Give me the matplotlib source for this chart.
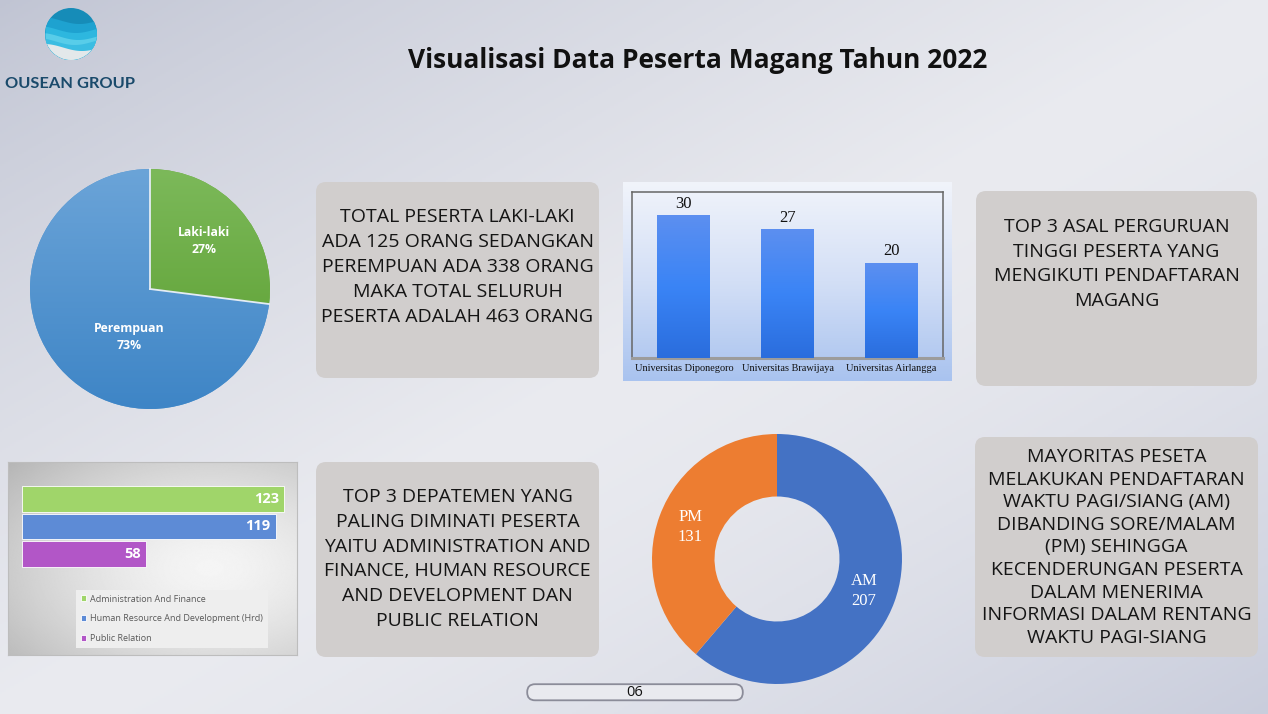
import numpy as np
import matplotlib
matplotlib.use("Agg")
import matplotlib.pyplot as plt
from matplotlib.patches import FancyBboxPatch, Circle
from matplotlib.colors import LinearSegmentedColormap, to_rgb

W, H = 1268, 714

# ---- data ----
title = "Visualisasi Data Peserta Magang Tahun 2022"
gender_labels = ["Laki-laki", "Perempuan"]
gender_counts = [125, 338]
univ_names = ["Universitas Diponegoro", "Universitas Brawijaya", "Universitas Airlangga"]
univ_counts = [30, 27, 20]
dept_names = ["Administration And Finance", "Human Resource And Development (Hrd)", "Public Relation"]
dept_counts = [123, 119, 58]
time_labels = ["AM", "PM"]
time_counts = [207, 131]

text_gender = ["TOTAL PESERTA LAKI-LAKI", "ADA 125 ORANG SEDANGKAN", "PEREMPUAN ADA 338 ORANG",
               "MAKA TOTAL SELURUH", "PESERTA ADALAH 463 ORANG"]
text_univ = ["TOP 3 ASAL PERGURUAN", "TINGGI PESERTA YANG", "MENGIKUTI PENDAFTARAN", "MAGANG"]
text_dept = ["TOP 3 DEPATEMEN YANG", "PALING DIMINATI PESERTA", "YAITU ADMINISTRATION AND",
             "FINANCE, HUMAN RESOURCE", "AND DEVELOPMENT DAN", "PUBLIC RELATION"]
text_time = ["MAYORITAS PESETA", "MELAKUKAN PENDAFTARAN", "WAKTU PAGI/SIANG (AM)",
             "DIBANDING SORE/MALAM", "(PM) SEHINGGA", "KECENDERUNGAN PESERTA",
             "DALAM MENERIMA", "INFORMASI DALAM RENTANG", "WAKTU PAGI-SIANG"]

fig = plt.figure(figsize=(W / 100, H / 100), dpi=100)


def px_axes(x0, y0, x1, y1):
    # axes from pixel box (top-left origin)
    return fig.add_axes([x0 / W, 1 - y1 / H, (x1 - x0) / W, (y1 - y0) / H])


def vgrad(ax, extent, colors, **kw):
    cmap = LinearSegmentedColormap.from_list("g", colors[::-1])
    g = np.linspace(1, 0, 256).reshape(-1, 1)
    return ax.imshow(g, extent=extent, cmap=cmap, aspect="auto", interpolation="bilinear", **kw)


# ---- background ----
bg = fig.add_axes([0, 0, 1, 1])
bg.set_xlim(0, W)
bg.set_ylim(H, 0)
bg.axis("off")
yy, xx = np.mgrid[0:H:2, 0:W:2]
s = ((xx / W + yy / H) / 2)[..., None]
light = np.array(to_rgb("#eaebf0"))
tl = np.array(to_rgb("#c0c4d3"))
br = np.array(to_rgb("#c9cddc"))
img = np.where(s < 0.5, tl + (light - tl) * np.clip(s / 0.5, 0, 1) ** 0.8,
               light + (br - light) * np.clip((s - 0.5) / 0.5, 0, 1) ** 1.5)
bg.imshow(img, extent=(0, W, H, 0), aspect="auto", zorder=0)

# ---- logo ----
cx, cy, r = 71, 34, 26
circ = Circle((cx, cy), r, facecolor="#168cb8", edgecolor="none", zorder=1)
bg.add_patch(circ)
xs = np.linspace(cx - r, cx + r, 120)
waves = [(-14, "#1ea2d0", 0.9), (-5, "#2db7df", 1.2), (2, "#58cde9", 1.0),
         (7, "#3bbde2", 1.3), (13, "#e3e8ea", 0.7)]
for off, c, ph in waves:
    yw = cy + off + 3.5 * np.sin((xs - cx) / 12 + ph)
    p = bg.fill_between(xs, yw, cy + r + 2, color=c, lw=0, zorder=2)
    p.set_clip_path(circ)
bg.text(70, 84, "OUSEAN GROUP", ha="center", va="center", fontsize=11.8, fontweight="bold",
        color="#1a4a6b", family="Lato")

bg.text(698, 61, title, ha="center", va="center", fontsize=19, fontweight="bold",
        family="Open Sans", color="#111111")


def text_box(x0, y0, x1, y1, lines, y_first, step):
    rr = 10
    bg.add_patch(FancyBboxPatch((x0 + rr, y0 + rr), x1 - x0 - 2 * rr, y1 - y0 - 2 * rr,
                                boxstyle=f"round,pad={rr}", fc="#d1cecd", ec="none", zorder=1))
    for i, line in enumerate(lines):
        bg.text((x0 + x1) / 2, y_first + i * step, line, ha="center", va="center",
                fontsize=14, family="Open Sans", color="#151515", zorder=2)


text_box(316, 182, 599, 378, text_gender, 217, 25)
text_box(976, 191, 1257, 386, text_univ, 227, 24.7)
text_box(316, 462, 599, 657, text_dept, 497, 24.8)
text_box(975, 437, 1258, 657, text_time, 457, 22.6)

# page number pill
bg.add_patch(FancyBboxPatch((535, 692), 200, 0.5, boxstyle="round,pad=7.8",
                            fc="#e9eaef", ec="#8b8c99", lw=1.3, zorder=1))
bg.text(635, 692, "06", ha="center", va="center", fontsize=10.5, family="Open Sans", color="#111111")

# ---- pie: gender ----
pa = px_axes(25, 164, 275, 414)
wedges, _ = pa.pie(gender_counts, startangle=90, counterclock=False,
                   colors=["#6aaa3f", "#5096d2"], wedgeprops=dict(linewidth=0))
pie_grads = [("#7cb95a", "#589c2c"), ("#6ba4d8", "#3e85c6")]
for w, cols in zip(wedges, pie_grads):
    im = vgrad(pa, (-1, 1, -1, 1), cols, zorder=2)
    im.set_clip_path(w)
for w in wedges:
    a = np.radians(w.theta1)
    pa.plot([0, np.cos(a)], [0, np.sin(a)], color="#e4ecf4", lw=1.3, zorder=3)
pie_label_pos = [(0.45, 0.4), (-0.17, -0.4)]
tot = sum(gender_counts)
for lab, cnt, (lx, ly) in zip(gender_labels, gender_counts, pie_label_pos):
    pa.text(lx, ly, f"{lab}\n{round(100 * cnt / tot)}%", ha="center", va="center", color="white",
            fontsize=8.8, fontweight="bold", family="Open Sans", linespacing=1.35, zorder=4)
pa.set_xlim(-1.0417, 1.0417)
pa.set_ylim(-1.0417, 1.0417)
pa.axis("off")

# ---- vertical bars: universities ----
panel = px_axes(623, 182, 952, 381)
vgrad(panel, (0, 1, 0, 1), ["#f1f4fb", "#d3dff6", "#a9c3ef"])
panel.set_xlim(0, 1)
panel.set_ylim(0, 1)
panel.axis("off")

bx = px_axes(632, 192, 943, 358)
bx.patch.set_alpha(0)
xpos = np.arange(len(univ_counts))
bars = bx.bar(xpos, univ_counts, width=0.51, color="#3b82f0", zorder=2)
for b in bars:
    vgrad(bx, (b.get_x(), b.get_x() + b.get_width(), 0, b.get_height()),
          ["#5c8ff0", "#3a84f6", "#2a6ddd"], zorder=3)
bx.bar_label(bars, padding=3, fontsize=12, family="Liberation Serif", color="#111111")
bx.set_xlim(-0.5, 2.5)
bx.set_ylim(0, 35)
bx.set_xticks(xpos, univ_names, fontsize=7.4, family="Liberation Serif", color="#111111")
bx.tick_params(axis="x", length=0, pad=4)
bx.set_yticks([])
for side in ["top", "left", "right"]:
    bx.spines[side].set_color("#666666")
    bx.spines[side].set_linewidth(1.1)
bx.spines["bottom"].set_color("#9c9c9c")
bx.spines["bottom"].set_linewidth(2.2)

# ---- horizontal bars: departments ----
hp = px_axes(8, 462, 297, 655)
yy2, xx2 = np.mgrid[0:1:200j, 0:1:300j]
d = np.sqrt(((xx2 - 0.7) / 1.0) ** 2 + ((yy2 - 0.55) / 0.9) ** 2)
hp.imshow(np.clip(0.96 - 0.28 * d ** 1.5, 0, 1), cmap="gray", vmin=0, vmax=1,
          extent=(0, 1, 0, 1), aspect="auto")
hp.set_xlim(0, 1)
hp.set_ylim(0, 1)
hp.set_xticks([])
hp.set_yticks([])
for sp in hp.spines.values():
    sp.set_color("#bdbdbd")
    sp.set_linewidth(0.8)

hb = px_axes(22, 485, 290, 568)
hb.axis("off")
dept_colors = ["#a0d56a", "#5d8bd6", "#b256c7"]
ypos = np.arange(len(dept_counts))
hbars = hb.barh(ypos, dept_counts, height=0.93, color=dept_colors, edgecolor="white", linewidth=0.6)
for yv, v in zip(ypos, dept_counts):
    hb.text(v - 2.4, yv, str(v), ha="right", va="center", color="white", fontsize=10.5,
            fontweight="bold", family="Open Sans")
hb.set_xlim(0, 125.8)
hb.set_ylim(2.5, -0.5)
fig.legend(hbars, dept_names, loc="upper left", bbox_to_anchor=(76 / W, 1 - 590 / H),
           prop=dict(family="Open Sans", size=6.5), labelcolor="#595959", frameon=True,
           facecolor="#eeeeee", edgecolor="none", framealpha=1, fancybox=False,
           handlelength=0.6, handleheight=0.6, handletextpad=0.5, labelspacing=1.2,
           borderpad=0.5, borderaxespad=0)

# ---- donut: AM / PM ----
dx = px_axes(647, 429, 907, 689)
dw, _ = dx.pie(time_counts, startangle=90, counterclock=False, colors=["#4472c4", "#ed7d31"],
               wedgeprops=dict(width=0.5, linewidth=0))
for w, lab, cnt in zip(dw, time_labels, time_counts):
    a = np.radians((w.theta1 + w.theta2) / 2)
    dx.text(0.74 * np.cos(a), 0.74 * np.sin(a), f"{lab}\n{cnt}", ha="center", va="center",
            color="white", fontsize=12, family="Liberation Serif", linespacing=1.4)
dx.set_xlim(-1.04, 1.04)
dx.set_ylim(-1.04, 1.04)
dx.axis("off")

fig.savefig("out.png", dpi=100)
